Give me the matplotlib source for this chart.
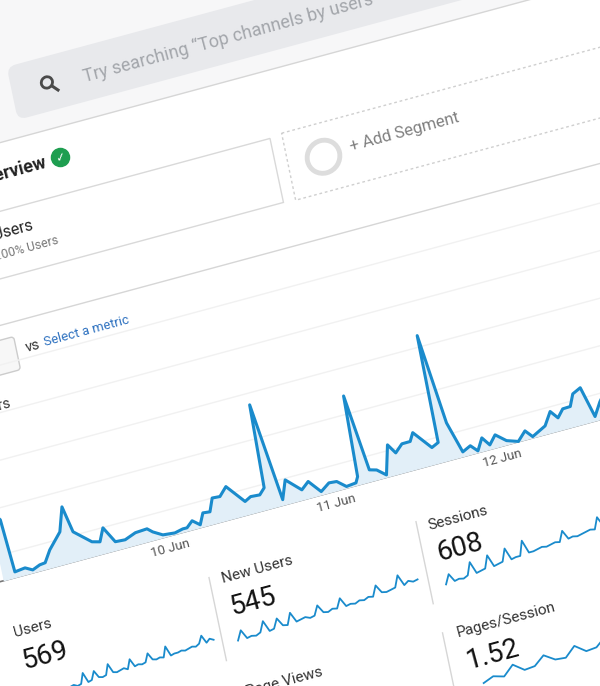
import numpy as np
import matplotlib
matplotlib.use('Agg')
import matplotlib.pyplot as plt
from matplotlib.transforms import Affine2D
from matplotlib.patches import FancyBboxPatch, Rectangle, Circle

plt.rcParams['font.family'] = ['Roboto', 'DejaVu Sans']

# hourly users, hour 0 = 10 Jun 00:00
hours = [-23.6, -22.4, -21.9, -20.4, -19.4, -18.3, -17.5, -16.5, -14.6, -13.6,
         -12.8, -10.5, -9.4, -8.6, -7.3, -5.9, -4.3, -2.6, -1.9, -0.6,
         1.1, 2.3, 2.9, 3.8, 4.8, 5.5, 6.5, 7.2, 8.3, 9.4,
         11.6, 12.5, 13.8, 14.6, 15.0, 16.8, 17.7, 19.7, 20.8, 22.3,
         23.6, 24.7, 25.9, 27.3, 27.7, 28.1, 29.5, 30.5, 31.7, 32.7,
         33.6, 34.7, 35.9, 36.5, 38.7, 39.7, 39.9, 41.4, 42.8, 44.0,
         44.9, 45.8, 46.7, 47.7, 49.1, 50.7, 51.9, 52.8, 54.8, 55.9,
         56.8, 57.7, 58.8, 59.5, 60.7, 61.9, 63.0, 64.5]
users = [70, 58.5, 5.5, 6.7, 2.8, 5.8, 6.4, 17.4, 31.9, 55,
         28.6, 14.3, 12.2, 24.7, 8.4, 7.7, 11.8, 12.5, 8.1, 2.7,
         1.5, 3.3, 3.2, 8.6, 2.7, 13.3, 12.5, 25, 24.4, 32.3,
         13.3, 16.5, 15.8, 21.4, 103.6, 5.4, 23.5, 9.8, 16.1, 3.2,
         9.5, 8.8, 1.6, 2.6, 8.1, 88, 11.5, 9.5, 2.3, 30.5,
         20.8, 27.8, 27.9, 35.6, 16.6, 19.8, 126.3, 36.2, 4.6, 8.5,
         1.7, 13, 4.3, 12.5, 4.1, 0.3, 8.6, 1.2, 8.2, 20.5,
         12.5, 19.8, 20.1, 31.4, 35.3, 4.3, 17.2, 30]
day_ticks = [0, 24, 48]
day_labels = ['10 Jun', '11 Jun', '12 Jun']
grid_levels = [25, 70, 115, 160, 205]

card_titles = ['Users', 'New Users', 'Sessions', 'Page Views', 'Pages/Session']
card_values = ['569', '545', '608', '', '1.52']
spark_users = [2, 3, 1, 2, 12, 2, 3, 11, 4, 3, 4, 14, 5, 4, 5, 6, 4, 13, 5, 6, 5,
               6, 14, 7, 6, 7, 6, 16, 6, 7, 7, 8, 7, 8, 9, 8, 10, 17, 9, 12, 10]
spark_new = [3, 12, 3, 4, 3, 5, 15, 4, 5, 14, 6, 5, 16, 6, 7, 8, 6, 7, 16, 8, 7,
             9, 8, 17, 8, 9, 8, 10, 9, 11, 10, 20, 12, 11, 12, 13, 24, 13, 16, 14, 15]
spark_sessions = [3, 12, 4, 5, 4, 6, 18, 6, 7, 8, 20, 8, 9, 10, 22, 10, 11, 11, 25, 12,
                  12, 13, 14, 13, 14, 15, 14, 24, 15, 16, 15, 16, 17, 18, 17, 28, 18, 19, 19, 20]
spark_pages = [4, 8, 5, 14, 6, 7, 15, 8, 7, 16, 8, 9, 17, 9, 10, 11, 10, 12, 11, 13, 12, 19, 13, 14]

fig = plt.figure(figsize=(6, 6.86), dpi=100)
ax = fig.add_axes([0, 0, 1, 1])
ax.set_xlim(0, 600)
ax.set_ylim(686, 0)
ax.axis('off')

# page plane, tilted as in the photo
page = Affine2D(np.array([[1, 0.21, 0], [-0.27, 1, 0], [0, 0, 1]])) + ax.transData
ROT = 15.1
BLUE = '#1a8bcc'

# header band and search bar
ax.add_patch(Rectangle((-400, -300), 1400, 435, transform=page, fc='#f7f7f8', ec='none'))
ax.add_patch(FancyBboxPatch((-7, 65), 900, 53, boxstyle='round,pad=0,rounding_size=9',
                            transform=page, fc='#e8e9ec', ec='none'))
ax.plot([-400, 1000], [135, 135], transform=page, color='#d6d6d6', lw=1)
ax.add_patch(Circle((28, 90), 5.5, transform=page, fill=False, ec='#4a4a4a', lw=2))
ax.plot([32, 37], [94.5, 100], transform=page, color='#4a4a4a', lw=2.2)
ax.text(64, 94, 'Try searching \u201cTop channels by users\u201d', transform=page,
        rotation=ROT, rotation_mode='anchor', va='center', fontsize=13, color='#a3a6ab')

# title and segments
ax.text(11, 166, 'Audience Overview', transform=page, rotation=ROT, rotation_mode='anchor',
        ha='right', va='center', fontsize=13, fontweight='bold', color='#222222')
ax.scatter([26], [164], transform=page, s=170, color='#1e9e50', zorder=3)
ax.text(26, 164.5, '\u2713', transform=page, rotation=ROT, rotation_mode='anchor',
        ha='center', va='center', fontsize=8.5, color='white', fontweight='bold',
        family=['DejaVu Sans'], zorder=4)
ax.add_patch(Rectangle((-300, 200), 528, 64, transform=page, fill=False, ec='#d9d9d9', lw=1))
ax.text(-14, 221, 'All Users', transform=page, rotation=ROT, rotation_mode='anchor',
        ha='right', va='center', fontsize=11.5, color='#222222')
ax.text(8, 242, '100.00% Users', transform=page, rotation=ROT, rotation_mode='anchor',
        ha='right', va='center', fontsize=9, color='#777777')
ax.add_patch(Rectangle((240, 198), 600, 67, transform=page, fill=False, ec='#cfcfcf',
                       lw=1, ls=(0, (2, 2))))
ax.add_patch(Circle((275, 231), 16, transform=page, fill=False, ec='#dddddd', lw=3.5))
ax.text(302, 228, '+ Add Segment', transform=page, rotation=ROT, rotation_mode='anchor',
        va='center', fontsize=12, color='#808080')
ax.plot([-400, 1000], [308, 308], transform=page, color='#d6d6d6', lw=1)

# metric selector
ax.add_patch(FancyBboxPatch((-130, 322), 76, 33, boxstyle='round,pad=0,rounding_size=3',
                            transform=page, fc='#f7f7f7', ec='#cccccc', lw=1))
ax.text(-45, 336, 'vs', transform=page, rotation=ROT, rotation_mode='anchor',
        va='center', fontsize=10.5, color='#333333')
ax.text(-26, 336, 'Select a metric', transform=page, rotation=ROT, rotation_mode='anchor',
        va='center', fontsize=9.5, color='#2f72c0')
ax.text(-70, 384, '\u25cf Users', transform=page, rotation=ROT, rotation_mode='anchor',
        ha='right', va='center', fontsize=10.5, color='#333333')

# main chart: hour -> u, users -> height above baseline
chart = Affine2D().scale(6.92, -1).translate(52, 550.5) + page
for g in grid_levels:
    ax.plot([-40, 120], [g, g], transform=chart, color='#f1f1f1', lw=1, zorder=1)
ax.plot([-40, 120], [0, 0], transform=chart, color='#777777', lw=1.2, zorder=2)
ax.fill_between(hours, users, 0, transform=chart, color='#e2eff8', zorder=2)
ax.plot(hours, users, transform=chart, color=BLUE, lw=2.2, zorder=3)
for h, lab in zip(day_ticks, day_labels):
    ax.text(h, -11.5, lab, transform=chart, rotation=ROT, rotation_mode='anchor',
            ha='center', va='center', fontsize=9.5, color='#555555')

# scorecards
col_u = [-113, 95, 301, 95, 307]
row_v = [603, 605, 607, 718, 716]
sparks = [spark_users, spark_new, spark_sessions, None, spark_pages]
spark_span = [(-70, 75, 670), (98, 280, 670), (306, 480, 670), None, (322, 560, 774)]
for u, v, title, val in zip(col_u, row_v, card_titles, card_values):
    ax.text(u, v, title, transform=page, rotation=ROT, rotation_mode='anchor',
            va='center', fontsize=11, color='#333333')
    if val:
        ax.text(u + 3, v + 29, val, transform=page, rotation=ROT, rotation_mode='anchor',
                va='center', fontsize=20, color='#111111')
for data, span in zip(sparks, spark_span):
    if data is None:
        continue
    u0, u1, base = span
    sx = (u1 - u0) / (len(data) - 1)
    tr = Affine2D().scale(sx, -1).translate(u0, base) + page
    ax.plot(np.arange(len(data)), data, transform=tr, color=BLUE, lw=1.3)
for u, v0, v1 in [(83, 600, 683), (290, 600, 682), (83, 712, 800), (293, 712, 800)]:
    ax.plot([u, u], [v0, v1], transform=page, color='#d6d6d6', lw=1)

fig.savefig('out.png', dpi=100)
